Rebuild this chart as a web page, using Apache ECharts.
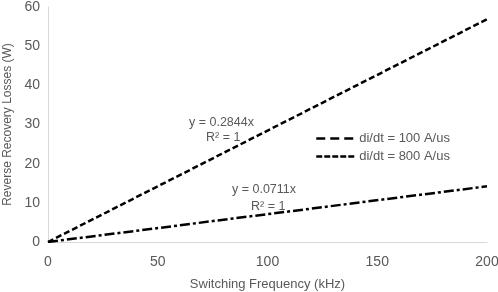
<!DOCTYPE html>
<html><head><meta charset="utf-8">
<script src="https://cdn.jsdelivr.net/npm/echarts@6/dist/echarts.min.js"></script>
<style>html,body{margin:0;padding:0;background:#fff}#c{width:498px;height:292px}</style>
</head><body><div id="c"></div>
<script>
var freq = [0, 200];
var loss100 = [0, 56.88];
var loss800 = [0, 14.22];
var seriesNames = ['di/dt = 100 A/us', 'di/dt = 800 A/us'];
var eqLabels = ['y = 0.2844x', 'R\u00b2 = 1', 'y = 0.0711x', 'R\u00b2 = 1'];

var txt = '#595959';
var font = 'Liberation Sans, Arial, sans-serif';
var chart = echarts.init(document.getElementById('c'));
function pairs(xs, ys){ return xs.map(function(x,i){return [x, ys[i]];}); }
chart.setOption({
  animation: false,
  textStyle: {fontFamily: font},
  grid: {left: 48, right: 11, top: 7, bottom: 50, outerBoundsMode: 'none', containLabel: false},
  xAxis: {
    type: 'value', min: 0, max: 200, interval: 50,
    name: 'Switching Frequency (kHz)', nameLocation: 'middle', nameGap: 36,
    nameTextStyle: {color: txt, fontSize: 13, fontFamily: font},
    axisLine: {show: true, lineStyle: {color: '#d9d9d9', width: 1}},
    axisTick: {show: false}, splitLine: {show: false},
    axisLabel: {color: txt, fontSize: 14, margin: 13, fontFamily: font}
  },
  yAxis: {
    type: 'value', min: 0, max: 60, interval: 10,
    name: 'Reverse Recovery Losses (W)', nameLocation: 'middle', nameGap: 34,
    nameTextStyle: {color: txt, fontSize: 12, fontFamily: font},
    axisLine: {show: true, lineStyle: {color: '#d9d9d9', width: 1}},
    axisTick: {show: false}, splitLine: {show: false},
    axisLabel: {color: txt, fontSize: 14, margin: 8, fontFamily: font}
  },
  legend: {
    orient: 'vertical', left: 310, top: 127, itemWidth: 38, itemHeight: 12, itemGap: 5,
    textStyle: {color: txt, fontSize: 13, fontFamily: font},
    data: [
      {name: seriesNames[0], itemStyle: {opacity: 0}, lineStyle: {type: [9, 5], width: 2.5, color: '#000'}},
      {name: seriesNames[1], itemStyle: {opacity: 0}, lineStyle: {type: [6, 2], width: 2.5, color: '#000'}}
    ]
  },
  series: [
    {name: seriesNames[0], type: 'line', data: pairs(freq, loss100), symbol: 'none',
     lineStyle: {color: '#000', width: 2.5, type: [6, 3]}, itemStyle: {color: '#000'}},
    {name: seriesNames[1], type: 'line', data: pairs(freq, loss800), symbol: 'none',
     lineStyle: {color: '#000', width: 2.5, type: [10, 3, 3, 3]}, itemStyle: {color: '#000'}}
  ],
  graphic: [
    {type: 'text', left: 189, top: 116, style: {text: eqLabels[0], fill: txt, font: '12.5px ' + font}},
    {type: 'text', left: 206, top: 131, style: {text: eqLabels[1], fill: txt, font: '12.5px ' + font}},
    {type: 'text', left: 232, top: 183, style: {text: eqLabels[2], fill: txt, font: '12.5px ' + font}},
    {type: 'text', left: 251, top: 200, style: {text: eqLabels[3], fill: txt, font: '12.5px ' + font}}
  ]
});
</script></body></html>
